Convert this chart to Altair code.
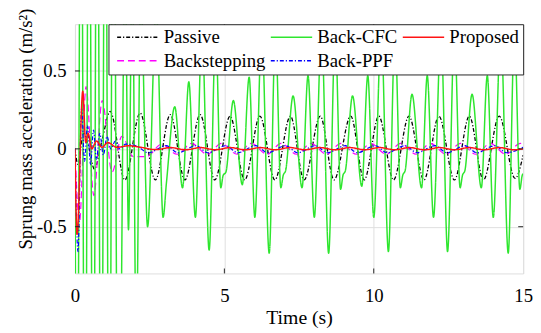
import altair as alt
import pandas as pd

# ---------------- data ----------------
passive_t = [0.00, 0.10, 0.28, 0.45, 0.65, 0.90,
             1.18, 1.67, 2.18, 2.69, 3.19, 3.68, 4.19, 4.68, 5.19, 5.68,
             6.19, 6.69, 7.21, 7.67, 8.21, 8.67, 9.23, 9.68, 10.17, 10.66,
             11.18, 11.68, 12.18, 12.70, 13.20, 13.67, 14.20, 14.73, 15.00]
passive_y = [0.00, -0.10, 0.10, 0.02, -0.13, 0.05,
             0.24, -0.20, 0.23, -0.20, 0.22, -0.20, 0.22, -0.20, 0.21, -0.20,
             0.21, -0.20, 0.21, -0.20, 0.21, -0.20, 0.21, -0.20, 0.21, -0.20,
             0.21, -0.20, 0.21, -0.20, 0.21, -0.20, 0.21, -0.19, -0.04]

backstep_t = [0.00, 0.15, 0.37, 0.63, 0.91, 1.24, 1.57, 1.95, 2.40,
              2.90, 3.42, 3.90, 4.43, 4.90, 5.43, 5.90, 6.43, 6.90, 7.42,
              7.90, 8.42, 8.90, 9.42, 9.90, 10.42, 10.90, 11.42, 11.90, 12.42,
              12.90, 13.42, 13.90, 14.42, 14.90, 15.00]
backstep_y = [0.00, -0.47, 0.40, -0.30, 0.31, -0.15, 0.08, -0.05, -0.05,
              0.03, -0.035, 0.035, -0.035, 0.035, -0.035, 0.035, -0.035, 0.035, -0.035,
              0.035, -0.035, 0.035, -0.035, 0.035, -0.035, 0.035, -0.035, 0.035, -0.035,
              0.035, -0.035, 0.035, -0.035, 0.035, 0.03]

cfc_t = [0.00, 0.0675, 0.20, 0.335, 0.47, 0.61, 0.74, 0.88, 1.01, 1.15,
         1.28, 1.455, 1.68, 1.79, 1.92, 2.05, 2.20, 2.43, 2.72, 2.95,
         3.06, 3.34, 3.60, 3.81, 4.03, 4.25, 4.49, 4.71, 4.88, 4.96,
         5.05, 5.30, 5.60, 5.83, 6.02, 6.25, 6.50, 6.71, 6.89, 6.97,
         7.05, 7.30, 7.60, 7.80, 8.01, 8.25, 8.49, 8.71, 8.89, 8.97,
         9.05, 9.29, 9.60, 9.80, 10.00, 10.25, 10.49, 10.71, 10.89, 10.97,
         11.05, 11.28, 11.60, 11.79, 12.00, 12.25, 12.47, 12.70, 12.89, 12.97,
         13.05, 13.29, 13.60, 13.80, 14.00, 14.25, 14.50, 14.71, 14.89, 14.97,
         15.00]
cfc_y = [0.0, -2.5, 2.5, -2.5, 2.5, -2.5, 2.5, -2.5, 2.5, -2.5,
         2.5, -2.5, 1.2, -0.52, 1.2, -1.3, 1.0, -0.50, 0.9, -0.44,
         -0.22, 0.27, -0.25, 0.43, -0.44, 0.75, -0.65, 0.75, -0.25, -0.17,
         -0.15, 0.31, -0.23, 0.46, -0.44, 0.75, -0.67, 0.75, -0.25, -0.17,
         -0.14, 0.34, -0.25, 0.47, -0.44, 0.75, -0.67, 0.75, -0.26, -0.17,
         -0.14, 0.34, -0.24, 0.47, -0.44, 0.75, -0.66, 0.75, -0.25, -0.17,
         -0.14, 0.35, -0.25, 0.47, -0.44, 0.75, -0.66, 0.75, -0.25, -0.17,
         -0.14, 0.35, -0.25, 0.47, -0.44, 0.75, -0.67, 0.75, -0.26, -0.17,
         -0.16]

ppf_t = [0.00, 0.10, 0.22, 0.32, 0.42, 0.52, 0.62, 0.72, 0.83, 0.95,
         1.07, 1.20, 1.35, 1.50, 1.70, 2.05, 2.45, 3.05, 3.45, 4.05,
         4.45, 5.05, 5.45, 6.05, 6.45, 7.05, 7.45, 8.05, 8.45, 9.05,
         9.45, 10.05, 10.45, 11.05, 11.45, 12.05, 12.45, 13.05, 13.45, 14.05,
         14.45, 15.00]
ppf_y = [0.00, -0.66, 0.26, -0.08, 0.15, -0.10, 0.12, -0.07, 0.10, -0.04,
         0.08, 0.00, 0.05, 0.00, 0.03, 0.02, -0.025, 0.02, -0.025, 0.02,
         -0.025, 0.02, -0.025, 0.02, -0.025, 0.02, -0.025, 0.02, -0.025, 0.02,
         -0.025, 0.02, -0.025, 0.02, -0.025, 0.02, -0.025, 0.02, -0.025, 0.02,
         -0.025, 0.01]

prop_t = [0.00, 0.07, 0.26, 0.36, 0.44, 0.56, 0.72, 0.90, 1.10, 1.40,
          1.80, 2.20, 2.70, 3.20, 3.70, 4.20, 4.70, 5.20, 5.70, 6.20,
          6.70, 7.20, 7.70, 8.20, 8.70, 9.20, 9.70, 10.20, 10.70, 11.20,
          11.70, 12.20, 12.70, 13.20, 13.70, 14.20, 14.70, 15.00]
prop_y = [0.00, -0.55, 0.37, 0.04, 0.10, 0.00, 0.05, 0.01, 0.04, 0.01,
          0.02, 0.01, -0.005, 0.008, -0.006, 0.008, -0.006, 0.008, -0.006, 0.008,
          -0.006, 0.008, -0.006, 0.008, -0.006, 0.008, -0.006, 0.008, -0.006, 0.008,
          -0.006, 0.008, -0.006, 0.008, -0.006, 0.008, -0.006, 0.0]

x_ticks = [0, 5, 10, 15]
y_ticks = [-0.5, 0, 0.5]

# legend fills row by row, 3 columns
legend_order = ["Passive", "Back-CFC", "Proposed", "Backstepping", "Back-PPF"]
legend_colors = ["#000000", "#2ee62e", "#ff1414", "#ff00ff", "#0000ff"]
legend_dashes = [[4, 2, 1.2, 2], [1, 0], [1, 0], [7, 4], [4, 2, 1.2, 2]]

FONT = "Liberation Serif"
FRAME = "#262626"
W, H = 455, 253

series = {
    "Passive": (passive_t, passive_y, 1.3),
    "Backstepping": (backstep_t, backstep_y, 1.2),
    "Back-CFC": (cfc_t, cfc_y, 1.5),
    "Back-PPF": (ppf_t, ppf_y, 1.2),
    "Proposed": (prop_t, prop_y, 1.5),
}

X = alt.X("t:Q",
          scale=alt.Scale(domain=[0, 15], nice=False, zero=False),
          axis=alt.Axis(values=x_ticks, title="Time (s)", grid=True,
                        gridColor="#dedede", ticks=False, tickSize=0, domain=False,
                        labelFlush=False, labelOverlap=False, labelFont=FONT,
                        labelFontSize=19, labelColor="black", labelPadding=28,
                        labelBaseline="alphabetic", titleFont=FONT, titleFontSize=20,
                        titleFontWeight="normal", titleColor="black", titleY=51,
                        titleBaseline="alphabetic"))
Y = alt.Y("v:Q",
          scale=alt.Scale(domain=[-0.8, 0.8], nice=False, zero=False),
          axis=alt.Axis(values=y_ticks, title="Sprung mass acceleration (m/s²)",
                        grid=True, gridColor="#dedede", ticks=False, tickSize=0,
                        domain=False, labelFlush=False, labelOverlap=False,
                        labelExpr="'' + datum.value", labelFont=FONT,
                        labelFontSize=19, labelColor="black", labelPadding=9,
                        titleFont=FONT, titleFontSize=19, titleFontWeight="normal",
                        titleColor="black", titleX=-44, titleY=106,
                        titleBaseline="alphabetic", titleAlign="center"))

# custom line-sample symbol: 42px long, small nominal size so rows stay tight
leg = alt.Legend(title=None, orient="top-right", offset=0, columns=3,
                 direction="horizontal",
                 symbolType="M-1,0H9", symbolSize=70.56, symbolStrokeWidth=1.5,
                 labelFont=FONT, labelFontSize=19, labelColor="black", labelLimit=0,
                 labelOffset=33.5, columnPadding=0, rowPadding=4, padding=3.5,
                 strokeColor=FRAME, fillColor="white")

C = alt.Color("series:N", scale=alt.Scale(domain=legend_order, range=legend_colors),
              legend=leg)
D = alt.StrokeDash("series:N", scale=alt.Scale(domain=legend_order, range=legend_dashes),
                   legend=leg)

layers = []
for name, (ts, ys, sw) in series.items():
    df = pd.DataFrame({"t": ts, "v": ys, "series": name})
    layers.append(
        alt.Chart(df).mark_line(clip=True, strokeWidth=sw, interpolate="monotone")
        .encode(x=X, y=Y, color=C, strokeDash=D)
    )

xt = pd.DataFrame({"t": x_ticks[1:-1]})
yt = pd.DataFrame({"v": y_ticks})
tick_bottom = alt.Chart(xt).mark_rule(color=FRAME, strokeWidth=1).encode(
    x=X, y=alt.value(H), y2=alt.value(H - 5))
tick_top = alt.Chart(xt).mark_rule(color=FRAME, strokeWidth=1).encode(
    x=X, y=alt.value(0), y2=alt.value(5))
tick_left = alt.Chart(yt).mark_rule(color=FRAME, strokeWidth=1).encode(
    y=Y, x=alt.value(0), x2=alt.value(5))
tick_right = alt.Chart(yt).mark_rule(color=FRAME, strokeWidth=1).encode(
    y=Y, x=alt.value(W - 5), x2=alt.value(W))

chart = alt.layer(*layers, tick_bottom, tick_top, tick_left, tick_right).properties(
    width=W, height=H,
    autosize=alt.AutoSizeParams(type="none"),
    padding={"left": 68, "top": 14, "right": 10, "bottom": 58},
    background="white",
).configure_view(stroke=FRAME, strokeWidth=1).configure(font=FONT)

chart.save("out.html", embed_options={"renderer": "svg", "actions": False})
